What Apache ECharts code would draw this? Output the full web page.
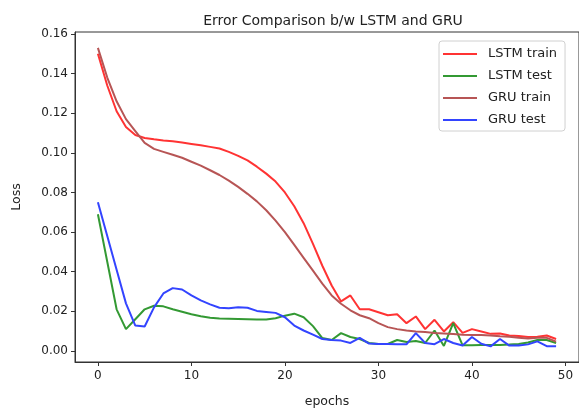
<!DOCTYPE html>
<html>
<head>
<meta charset="utf-8">
<script src="https://cdn.jsdelivr.net/npm/echarts@6/dist/echarts.min.js"></script>
<style>
  html, body { margin: 0; padding: 0; background: #fff; }
  #chart { width: 579px; height: 413px; }
</style>
</head>
<body>
<div id="chart"></div>
<script>
// NOTE - data
const epochs = [0,1,2,3,4,5,6,7,8,9,10,11,12,13,14,15,16,17,18,19,20,21,22,23,24,25,26,27,28,29,30,31,32,33,34,35,36,37,38,39,40,41,42,43,44,45,46,47,48,49]

const lstmTrain = [0.150,0.134,0.121,0.113,0.109,0.1075,0.1068,0.1062,0.1058,0.1052,
  0.1045,0.1038,0.103,0.1022,0.1005,0.0985,0.0962,0.093,0.0895,0.0855,
  0.080,0.073,0.0645,0.054,0.043,0.033,0.025,0.028,0.021,0.021,
  0.0195,0.018,0.0185,0.014,0.0174,0.011,0.0157,0.0098,0.0145,0.0091,
  0.011,0.0098,0.0086,0.0088,0.0078,0.0075,0.007,0.0072,0.0078,0.006]

const lstmTest = [0.069,0.045,0.021,0.011,0.016,0.021,0.0228,0.0225,0.021,0.0198,
  0.0185,0.0175,0.0167,0.0163,0.0162,0.0161,0.016,0.0158,0.0158,0.0165,
  0.0178,0.0188,0.017,0.0125,0.0065,0.0055,0.009,0.007,0.006,0.004,
  0.0035,0.0035,0.0055,0.0045,0.005,0.004,0.0103,0.0025,0.014,0.0028,
  0.0028,0.003,0.003,0.003,0.0032,0.0035,0.0042,0.0055,0.0055,0.004]

const gruTrain = [0.153,0.138,0.126,0.117,0.111,0.105,0.102,0.1005,0.099,0.0975,
  0.0955,0.0935,0.0912,0.0888,0.086,0.0828,0.0793,0.0755,0.071,0.0658,
  0.060,0.0535,0.047,0.0405,0.034,0.028,0.0238,0.0205,0.018,0.0165,
  0.014,0.012,0.011,0.0103,0.0098,0.0095,0.009,0.0088,0.0085,0.0081,
  0.008,0.008,0.0078,0.0074,0.0072,0.0066,0.0063,0.0066,0.0066,0.0047]

const gruTest = [0.075,0.058,0.041,0.024,0.0128,0.0123,0.022,0.029,0.0317,0.031,
  0.028,0.0255,0.0235,0.0218,0.0215,0.022,0.0218,0.0202,0.0197,0.0192,
  0.017,0.0128,0.0103,0.0082,0.006,0.0055,0.0052,0.004,0.0066,0.0037,
  0.0035,0.0035,0.0034,0.0033,0.009,0.004,0.0034,0.006,0.004,0.0027,
  0.007,0.0036,0.0023,0.006,0.0027,0.0027,0.0033,0.0048,0.0024,0.0024]

const xTicks = [0, 10, 20, 30, 40, 50]
const yTicks = [0, 0.02, 0.04, 0.06, 0.08, 0.10, 0.12, 0.14, 0.16]

const seriesList = [
  { name: 'LSTM train', values: lstmTrain, color: '#ff3333' },
  { name: 'LSTM test', values: lstmTest, color: '#339933' },
  { name: 'GRU train', values: gruTrain, color: '#b75555' },
  { name: 'GRU test', values: gruTest, color: '#3344ff' },
]

const font = 'DejaVu Sans'

const myChart = echarts.init(document.querySelector('#chart'), null, { renderer: 'canvas' })
const option = {
  animation: false,
  title: {
    text: 'Error Comparison b/w LSTM and GRU',
    left: 328,
    textAlign: 'center',
    top: 9,
    textStyle: { fontFamily: font, fontSize: 14, fontWeight: 'normal', color: '#222' }
  },
  grid: {
    left: 75, top: 32, right: -1, bottom: 51,
    show: true, borderColor: '#333', borderWidth: 1
  },
  legend: {
    orient: 'vertical',
    left: 439, top: 41,
    padding: [6, 8, 4, 4],
    itemWidth: 34, itemHeight: 2, itemGap: 8,
    icon: 'rect',
    borderColor: '#d0d0d0', borderWidth: 1, borderRadius: 3,
    backgroundColor: 'rgba(255,255,255,0.8)',
    textStyle: { fontFamily: font, fontSize: 13, color: '#222', lineHeight: 14, padding: [0, 0, 0, 6] },
    data: seriesList.map(s => s.name)
  },
  xAxis: {
    type: 'value',
    min: -2.45, max: 51.45,
    name: 'epochs',
    nameLocation: 'middle',
    nameGap: 33,
    nameTextStyle: { fontFamily: font, fontSize: 12.5, color: '#222' },
    axisLine: { show: true, onZero: false, lineStyle: { color: '#333' } },
    axisTick: { show: true, length: 4, customValues: xTicks, lineStyle: { color: '#333' } },
    axisLabel: { customValues: xTicks, fontFamily: font, fontSize: 12, color: '#222', margin: 8 },
    splitLine: { show: false }
  },
  yAxis: {
    type: 'value',
    min: -0.0056, max: 0.161,
    name: 'Loss',
    nameLocation: 'middle',
    nameGap: 52,
    nameTextStyle: { fontFamily: font, fontSize: 12.5, color: '#222' },
    axisLine: { show: true, onZero: false, lineStyle: { color: '#333' } },
    axisTick: { show: true, length: 4, customValues: yTicks, lineStyle: { color: '#333' } },
    axisLabel: {
      customValues: yTicks, fontFamily: font, fontSize: 12, color: '#222', margin: 7,
      formatter: v => v.toFixed(2)
    },
    splitLine: { show: false }
  },
  series: seriesList.map(s => ({
    name: s.name,
    type: 'line',
    showSymbol: false,
    symbol: 'none',
    color: s.color,
    lineStyle: { width: 2, color: s.color },
    data: epochs.map((e, i) => [e, s.values[i]])
  }))
}
myChart.setOption(option)
</script>
</body>
</html>
